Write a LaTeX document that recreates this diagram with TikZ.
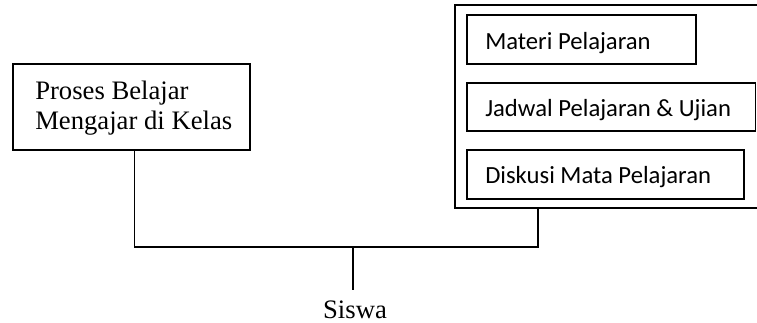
\documentclass[tikz,border=0pt]{standalone}
\usepackage{fontspec}
\setmainfont{Liberation Serif}
\newfontfamily\calfont{Carlito}
\usetikzlibrary{fit}
\begin{document}
\begin{tikzpicture}[x=0.75pt,y=-0.75pt,
  box/.style={draw, line width=0.9pt, inner sep=0pt, outer sep=0pt},
  serif/.style={font=\fontsize{20}{23}\selectfont, inner sep=0pt, anchor=base west},
  cal/.style={font=\calfont\fontsize{18.5}{21}\selectfont, inner sep=0pt, anchor=base west},
  wire/.style={line width=0.9pt}]
\useasboundingbox (0,0) rectangle (757,323);
\clip (0,0) rectangle (757,323);
% left box
\node[box, fit={(13,64) (250,150)}] (lb) {};
\node[serif] (t1) at (35,100) {Proses Belajar};
\node[serif] (t2) at (35,130) {Mengajar di Kelas};
% outer right box (cut off at the right)
\node[box, fit={(455,5) (775,208)}] (ob) {};
\node[box, fit={(467,15) (696,64)}] (m) {};
\node[cal] (mt) at (485,50) {Materi Pelajaran};
\node[box, fit={(467,83) (755.5,131)}] (jd) {};
\node[cal] (jt) at (485,117) {Jadwal Pelajaran \& Ujian};
\node[box, fit={(467,150) (744,199)}] (dk) {};
\node[cal] (dt) at (485,184) {Diskusi Mata Pelajaran};
% Siswa
\node[font=\fontsize{20}{23}\selectfont, inner sep=0pt, anchor=base] (s) at (355,319) {Siswa};
% connectors
\coordinate (ls) at (134.5,150);
\coordinate (os) at (538,208);
\coordinate (j) at (353,247);
\coordinate (se) at (353,290);
\draw[wire] (ls) |- (j) -| (os);
\draw[wire] (j) -- (se);
\end{tikzpicture}
\end{document}
